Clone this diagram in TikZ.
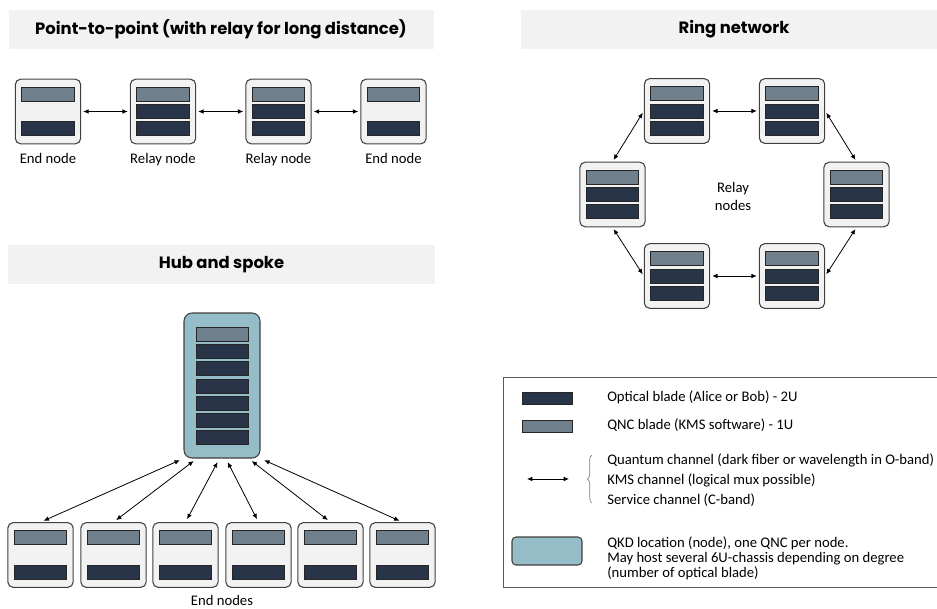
\documentclass[tikz,border=0pt]{standalone}
\usepackage{fontspec}
\setmainfont{Carlito}
\newfontfamily\titlefont{Poppins}
\usepackage{tikz}
\usetikzlibrary{arrows.meta}
\usetikzlibrary{decorations.pathreplacing}
\definecolor{boxfill}{HTML}{F2F2F2}
\definecolor{boxline}{HTML}{404040}
\definecolor{qncblue}{HTML}{6F7F8C}
\definecolor{optblue}{HTML}{283548}
\definecolor{hubteal}{HTML}{95BDC7}
\definecolor{barfill}{HTML}{F2F2F2}
\definecolor{legline}{HTML}{595959}

\begin{document}
\begin{tikzpicture}[x=0.75pt, y=-0.75pt, >={Latex[length=4pt,width=3.5pt]},
  every node/.style={font=\fontsize{11}{13.5}\selectfont},
  titlebar/.style={fill=barfill, minimum height=29.25pt, font=\titlefont\bfseries\fontsize{12.3}{14}\selectfont},
  chassis/.style={draw=boxline, fill=boxfill, line width=0.8pt, rounded corners=4pt, minimum width=49pt, minimum height=48.5pt, inner sep=0pt},
  blade/.style={draw=black!85, line width=0.6pt, minimum width=39.5pt, minimum height=10.5pt, inner sep=0pt},
  qnc/.style={blade, fill=qncblue},
  optical/.style={blade, fill=optblue},
  link/.style={<->, line width=0.6pt, shorten >=1.5pt, shorten <=1.5pt},
  spoke/.style={link, shorten >=2.5pt, shorten <=3pt},
  legtext/.style={anchor=base west, inner sep=0pt}]
\useasboundingbox (0,0) rectangle (937,608);

\node[titlebar, minimum width=318.75pt] (ptptitle) at (221,29.5) {Point-to-point (with relay for long distance)};
\node[titlebar, minimum width=319.5pt] (ringtitle) at (734,29.5) {Ring network};
\node[titlebar, minimum width=320pt] (hubtitle) at (221.5,264.5) {Hub and spoke};

\node[chassis, label={[label distance=3.5pt]below:End node}] (p1) at (48,111.5) {};
\node[chassis, label={[label distance=3.5pt]below:Relay node}] (p2) at (163,111.5) {};
\node[chassis, label={[label distance=3.5pt]below:Relay node}] (p3) at (278.5,111.5) {};
\node[chassis, label={[label distance=3.5pt]below:End node}] (p4) at (393.5,111.5) {};

\node[chassis] (r1) at (677,111) {};
\node[chassis] (r2) at (792,111) {};
\node[chassis] (r3) at (856.5,194.5) {};
\node[chassis] (r4) at (792,276) {};
\node[chassis] (r5) at (677,276) {};
\node[chassis] (r6) at (612.5,194.5) {};
\node[align=center] (ringlbl) at (733,196) {Relay\\nodes};

\node[chassis, fill=hubteal, minimum width=57pt, minimum height=108.75pt, rounded corners=6pt] (hub) at (222,385.5) {};
\node[chassis] (e1) at (40.5,555) {};
\node[chassis] (e2) at (113.5,555) {};
\node[chassis] (e3) at (185.5,555) {};
\node[chassis] (e4) at (258.5,555) {};
\node[chassis] (e5) at (330.5,555) {};
\node[chassis] (e6) at (402.5,555) {};
\node[anchor=base] (endlbl) at (222,605) {End nodes};

\foreach \n/\x/\y in {p2/163/111.5, p3/278.5/111.5, r1/677/111, r2/792/111, r3/856.5/194.5, r4/792/276, r5/677/276, r6/612.5/194.5} {
  \node[qnc] (\n-q) at (\x,\y-17.3) {};
  \node[optical] (\n-a) at (\x,\y) {};
  \node[optical] (\n-b) at (\x,\y+17.3) {};
}
\foreach \n/\x/\y in {p1/48/111.5, p4/393.5/111.5, e1/40.5/555, e2/113.5/555, e3/185.5/555, e4/258.5/555, e5/330.5/555, e6/402.5/555} {
  \node[qnc] (\n-q) at (\x,\y-17.5) {};
  \node[optical] (\n-a) at (\x,\y+17) {};
}
\node[qnc] (hub-q) at (222.5,334) {};
\foreach \i in {1,...,6}
  \node[optical] (hub-\i) at (222.5,334+17.3*\i) {};

\draw[link] (p1) to (p2);
\draw[link] (p2) to (p3);
\draw[link] (p3) to (p4);

\draw[link] (r1) to (r2);
\draw[link] (r2.east) to (r3.north);
\draw[link] (r3.south) to (r4.east);
\draw[link] (r4) to (r5);
\draw[link] (r5.west) to (r6.south);
\draw[link] (r6.north) to (r1.west);

\draw[spoke] (hub.south west) to (e1.north);
\draw[spoke] (hub.251) to (e2.north);
\draw[spoke] (hub.268) to (e3.north);
\draw[spoke] (hub.273) to (e4.north);
\draw[spoke] (hub.290) to (e5.north);
\draw[spoke] (hub.south east) to (e6.north);

\draw[legline, line width=0.7pt] (503,377) rectangle (945,587);
\node[optical, minimum width=37.5pt, minimum height=9pt] (keyopt) at (547,398) {};
\node[qnc, minimum width=37.5pt, minimum height=8.5pt] (keyqnc) at (547,426.5) {};
\coordinate (keyl) at (527,479);
\coordinate (keyr) at (569,479);
\draw[link, shorten >=0pt, shorten <=0pt] (keyl) to (keyr);
\draw[gray, line width=0.5pt, decorate, decoration={brace, amplitude=3.5pt}] (592,503) -- (592,455);
\node[chassis, fill=hubteal, minimum width=52.5pt, minimum height=21pt, rounded corners=3pt] (keyhub) at (547,551) {};
\node[legtext] (keyopttxt) at (607,401) {Optical blade (Alice or Bob) - 2U};
\node[legtext] (keyqnctxt) at (607,429.5) {QNC blade (KMS software) - 1U};
\node[legtext] (keyquant) at (607,464.5) {Quantum channel (dark fiber or wavelength in O-band)};
\node[legtext] (keykms) at (607,484) {KMS channel (logical mux possible)};
\node[legtext] (keyserv) at (607,504) {Service channel (C-band)};
\node[legtext] (keyhub1) at (607,547.7) {QKD location (node), one QNC per node.};
\node[legtext] (keyhub2) at (607,562.7) {May host several 6U-chassis depending on degree};
\node[legtext] (keyhub3) at (607,577.7) {(number of optical blade)};
\end{tikzpicture}
\end{document}
